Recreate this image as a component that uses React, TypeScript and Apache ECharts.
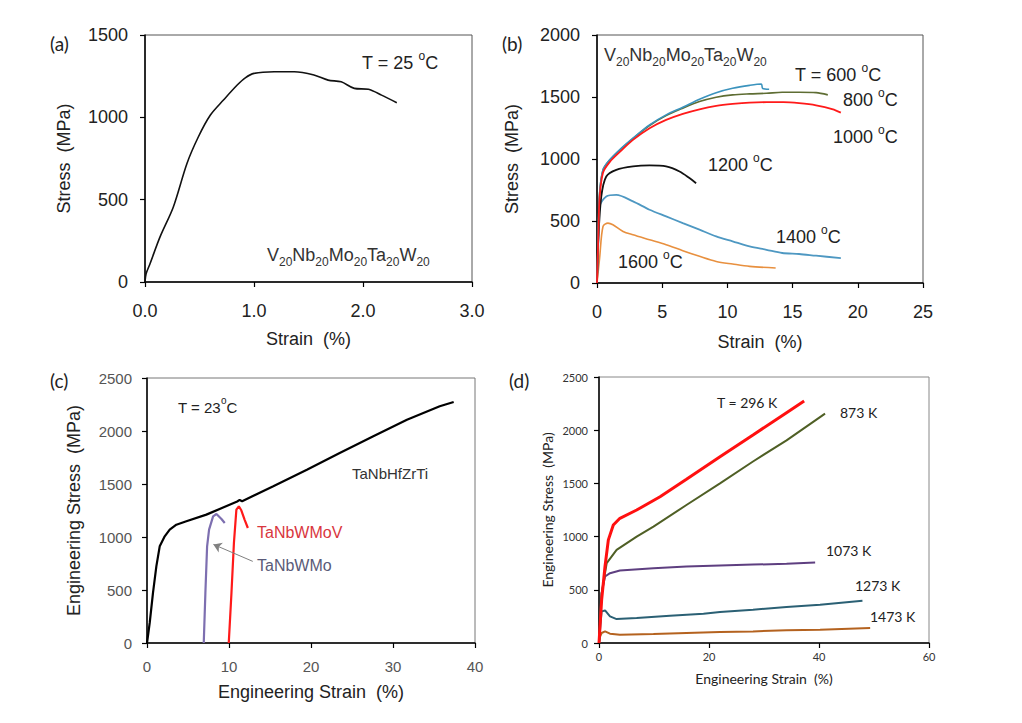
import React, { useEffect, useRef } from "react";
import * as echarts from "echarts";

// ---------- Panel (a) ----------
const A_STRAIN = [0, 0.01, 0.046, 0.138, 0.26, 0.385, 0.49, 0.6, 0.72, 0.846, 0.92, 1.0, 1.185, 1.37, 1.55, 1.68, 1.8, 1.92, 2.05, 2.17, 2.31];
const A_STRESS = [0, 50, 111, 274, 456, 720, 882, 1014, 1105, 1196, 1240, 1267, 1277, 1277, 1257, 1226, 1216, 1176, 1170, 1135, 1089];

// ---------- Panel (b) ----------
const B600_X = [0, 0.1, 0.2, 0.46, 0.97, 1.73, 2.76, 4.03, 5.3, 6.58, 7.86, 9.14, 10.4, 11.7, 12.6, 12.7, 13.2];
const B600_Y = [0, 400, 725, 913, 993, 1074, 1168, 1275, 1356, 1417, 1482, 1535, 1570, 1594, 1605, 1570, 1562];
const B800_X = [0, 0.1, 0.2, 0.46, 0.97, 1.73, 2.76, 4.03, 5.3, 6.58, 7.86, 9.14, 10.4, 11.7, 13, 14.2, 15.5, 16.8, 17.7];
const B800_Y = [0, 400, 720, 910, 990, 1070, 1165, 1270, 1350, 1410, 1463, 1498, 1517, 1525, 1530, 1538, 1538, 1535, 1517];
const B1000_X = [0, 0.1, 0.2, 0.46, 0.97, 1.73, 2.76, 4.03, 5.3, 6.58, 7.86, 9.14, 10.4, 11.7, 13, 14.3, 15.5, 16.8, 18.1, 18.7];
const B1000_Y = [0, 380, 690, 890, 975, 1055, 1154, 1248, 1315, 1364, 1401, 1428, 1444, 1455, 1458, 1458, 1450, 1433, 1401, 1374];
const B1200_X = [0, 0.1, 0.33, 0.71, 1.48, 2.76, 4.03, 5.3, 6.33, 7.09, 7.6];
const B1200_Y = [0, 350, 698, 859, 913, 940, 948, 940, 899, 846, 805];
const B1400_X = [0, 0.1, 0.2, 0.71, 1.48, 2.76, 4.03, 5.3, 6.58, 7.86, 9.14, 10.4, 11.7, 13, 14.2, 15.5, 16.8, 18.7];
const B1400_Y = [0, 330, 617, 698, 711, 658, 591, 537, 483, 430, 376, 336, 295, 268, 242, 234, 220, 201];
const B1600_X = [0, 0.2, 0.46, 0.84, 1.22, 2, 2.76, 4.03, 5.3, 6.58, 7.86, 9.14, 10.4, 11.7, 13.7];
const B1600_Y = [0, 200, 456, 483, 470, 416, 389, 349, 309, 260, 215, 174, 153, 134, 121];

// ---------- Panel (c) ----------
const C_HF_X = [0, 0.33, 0.73, 1.14, 1.55, 2.16, 2.77, 3.58, 4.8, 7.24, 11.0, 11.3, 11.6, 15.4, 19.5, 23.5, 27.6, 31.7, 35.7, 37.4];
const C_HF_Y = [0, 189, 472, 723, 912, 1006, 1069, 1116, 1148, 1211, 1335, 1350, 1338, 1478, 1635, 1792, 1950, 2107, 2233, 2274];
const C_MO_X = [6.92, 7.12, 7.33, 7.57, 8.06, 8.47, 9.08, 9.48];
const C_MO_Y = [0, 472, 912, 1069, 1195, 1217, 1170, 1132];
const C_MOV_X = [9.97, 10.3, 10.6, 10.9, 11.2, 11.5, 11.9, 12.3];
const C_MOV_Y = [0, 472, 943, 1258, 1289, 1252, 1164, 1085];

// ---------- Panel (d) ----------
const D296_X = [0, 0.48, 1.09, 1.7, 2.6, 3.8, 6.85, 11.1, 15.9, 22, 28, 34.1, 37.3];
const D296_Y = [0, 406, 719, 969, 1109, 1172, 1250, 1375, 1538, 1750, 1955, 2165, 2275];
const D873_X = [0, 0.48, 1.4, 3.2, 6.85, 9.9, 15.9, 22, 28, 34.1, 41.1];
const D873_Y = [0, 469, 750, 875, 1000, 1094, 1297, 1500, 1706, 1905, 2156];
const D1073_X = [0, 0.48, 1.1, 2, 3.8, 9.9, 15.9, 22, 28, 34.1, 39.3];
const D1073_Y = [0, 469, 625, 656, 681, 703, 719, 728, 737, 744, 756];
const D1273_X = [0, 0.3, 0.48, 1.1, 2, 3.2, 6.85, 12.9, 19, 22, 28, 34.1, 40.2, 47.9];
const D1273_Y = [0, 200, 297, 306, 250, 225, 234, 256, 275, 291, 313, 338, 359, 397];
const D1473_X = [0, 0.2, 0.48, 1.1, 2, 3.8, 9.9, 15.9, 22, 28, 34.1, 40.2, 49.3];
const D1473_Y = [0, 60, 94, 109, 88, 78, 84, 94, 103, 109, 119, 125, 141];

const mk = (xs: number[], ys: number[]) => xs.map((x, i) => [x, ys[i]]);

const ARIAL = "Liberation Sans, Arial, sans-serif";
const CAL = "Lato, Carlito, sans-serif";
const plain = (v: number) => String(v);

function xAx(g: number, min: number, max: number, interval: number, fs: number, color: string, name: string, gap: number, nfs: number, fam: string, margin: number, fmt: (v: number) => string = plain) {
  return {
    type: "value", gridIndex: g, min, max, interval,
    axisLine: { show: true, lineStyle: { color: "#000", width: 1.5 } },
    axisTick: { show: true, inside: false, length: 5, lineStyle: { color: "#000", width: 1.2 } },
    splitLine: { show: false },
    axisLabel: { fontSize: fs, color, fontFamily: fam, margin, formatter: fmt },
    name, nameLocation: "middle", nameGap: gap,
    nameTextStyle: { fontSize: nfs, color: "#222", fontFamily: fam },
  };
}
function yAx(g: number, min: number, max: number, interval: number, fs: number, color: string, name: string, gap: number, nfs: number, fam: string, margin: number) {
  return {
    type: "value", gridIndex: g, min, max, interval,
    axisLine: { show: true, lineStyle: { color: "#000", width: 1.5 } },
    axisTick: { show: true, inside: false, length: 5, lineStyle: { color: "#000", width: 1.2 } },
    splitLine: { show: false },
    axisLabel: { fontSize: fs, color, fontFamily: fam, margin, formatter: plain },
    name, nameLocation: "middle", nameGap: gap, nameRotate: 90,
    nameTextStyle: { fontSize: nfs, color: "#222", fontFamily: fam },
  };
}
function ln(name: string, g: number, data: number[][], color: string, width: number, smooth: number | boolean, extra: any = {}) {
  return {
    name, type: "line", xAxisIndex: g, yAxisIndex: g, data, showSymbol: false, symbol: "none",
    lineStyle: { color, width }, itemStyle: { color }, smooth, silent: true, ...extra,
  };
}

function txt(x: number, y: number, text: string, fs: number, fam: string, color = "#222", sub = 12) {
  return {
    type: "text", x, y,
    style: {
      text, fill: color, fontSize: fs, fontFamily: fam, lineHeight: fs + 8,
      align: "left", verticalAlign: "middle", textAlign: "left", textVerticalAlign: "middle",
      rich: {
        sub: { fontSize: sub, fontFamily: fam, fill: color, color, lineHeight: sub, verticalAlign: "bottom" },
        sup: { fontSize: sub, fontFamily: fam, fill: color, color, lineHeight: sub + 2, verticalAlign: "top" },
      },
    },
    z: 100,
  };
}

const ALLOY = "V{sub|20}Nb{sub|20}Mo{sub|20}Ta{sub|20}W{sub|20}";

export default function App() {
  const ref = useRef<HTMLDivElement>(null);
  useEffect(() => {
    const chart = echarts.init(ref.current!, null, { renderer: "svg" });
    const gridStyle = { show: true, borderColor: "#555", borderWidth: 1, backgroundColor: "transparent" };
    const S = 0.3;
    chart.setOption({
      animation: false,
      backgroundColor: "#fff",
      grid: [
        { left: 145, top: 35, width: 327, height: 247, ...gridStyle },
        { left: 597, top: 35, width: 326, height: 248, ...gridStyle },
        { left: 147, top: 378, width: 328, height: 265, ...gridStyle, borderColor: "#777" },
        { left: 599, top: 377, width: 330, height: 266, ...gridStyle, borderColor: "#888" },
      ],
      xAxis: [
        xAx(0, 0, 3, 1, 18, "#222", "Strain  (%)", 48, 18, ARIAL, 20, (v: number) => v.toFixed(1)),
        xAx(1, 0, 25, 5, 18, "#222", "Strain  (%)", 50, 18, ARIAL, 20),
        xAx(2, 0, 40, 10, 15, "#555", "Engineering Strain  (%)", 40, 18, ARIAL, 16),
        xAx(3, 0, 60, 20, 11, "#333", "Engineering Strain  (%)", 28, 14, CAL, 8),
      ],
      yAxis: [
        yAx(0, 0, 1500, 500, 18, "#222", "Stress  (MPa)", 72, 18, ARIAL, 17),
        yAx(1, 0, 2000, 500, 18, "#222", "Stress  (MPa)", 76, 18, ARIAL, 17),
        yAx(2, 0, 2500, 500, 15, "#555", "Engineering Stress  (MPa)", 64, 18, ARIAL, 15),
        yAx(3, 0, 2500, 500, 11, "#333", "Engineering Stress  (MPa)", 45, 14, CAL, 11),
      ],
      series: [
        ln("V20Nb20Mo20Ta20W20 25 °C", 0, mk(A_STRAIN, A_STRESS), "#111", 1.6, S),
        ln("1600 °C", 1, mk(B1600_X, B1600_Y), "#e8903f", 1.6, S),
        ln("1400 °C", 1, mk(B1400_X, B1400_Y), "#4e98c2", 1.8, S),
        ln("1200 °C", 1, mk(B1200_X, B1200_Y), "#111", 1.8, S),
        ln("800 °C", 1, mk(B800_X, B800_Y), "#5e6d33", 1.6, S),
        ln("600 °C", 1, mk(B600_X, B600_Y), "#3b93bd", 1.6, S),
        ln("1000 °C", 1, mk(B1000_X, B1000_Y), "#ff1a1a", 1.8, S),
        ln("TaNbHfZrTi", 2, mk(C_HF_X, C_HF_Y), "#000", 2.2, false),
        ln("TaNbWMo", 2, mk(C_MO_X, C_MO_Y), "#7d6fb0", 2.2, false, {
          markLine: {
            silent: true, symbol: ["none", "arrow"], symbolSize: 8,
            lineStyle: { color: "#808080", width: 1, type: "solid" }, label: { show: false },
            data: [[{ coord: [12.9, 770] }, { coord: [8.1, 930] }]],
          },
        }),
        ln("TaNbWMoV", 2, mk(C_MOV_X, C_MOV_Y), "#ff1a1a", 2.2, false),
        ln("1473 K", 3, mk(D1473_X, D1473_Y), "#b4621f", 2, false),
        ln("1273 K", 3, mk(D1273_X, D1273_Y), "#2b6074", 2, false),
        ln("1073 K", 3, mk(D1073_X, D1073_Y), "#5e3f80", 2, false),
        ln("873 K", 3, mk(D873_X, D873_Y), "#4f5f25", 2, false),
        ln("296 K", 3, mk(D296_X, D296_Y), "#ff1010", 3, false),
      ],
      graphic: [
        txt(50, 43, "(a)", 19, CAL, "#222"),
        txt(502, 43, "(b)", 19, CAL, "#222"),
        txt(50, 380, "(c)", 19, CAL, "#222"),
        txt(509, 380, "(d)", 19, CAL, "#222"),
        txt(362, 63, "T = 25 {sup|o}C", 18, ARIAL, "#222", 12),
        txt(267, 255, ALLOY, 18, ARIAL, "#333", 12),
        txt(604, 55, ALLOY, 18, ARIAL, "#333", 12),
        txt(795, 75, "T = 600 {sup|o}C", 18, ARIAL, "#222", 12),
        txt(843, 100, "800 {sup|o}C", 18, ARIAL, "#222", 12),
        txt(833, 137, "1000 {sup|o}C", 18, ARIAL, "#222", 12),
        txt(708, 165, "1200 {sup|o}C", 18, ARIAL, "#222", 12),
        txt(776, 237, "1400 {sup|o}C", 18, ARIAL, "#222", 12),
        txt(618, 262, "1600 {sup|o}C", 18, ARIAL, "#222", 12),
        txt(178, 407, "T = 23{sup|o}C", 15, ARIAL, "#222", 10),
        txt(352, 473, "TaNbHfZrTi", 15, ARIAL, "#333"),
        txt(257, 532, "TaNbWMoV", 16, ARIAL, "#d9363e"),
        txt(257, 565, "TaNbWMo", 16, ARIAL, "#5a5a78"),
        txt(717, 402, "T = 296 K", 14, CAL, "#222"),
        txt(840, 412, "873 K", 14, CAL, "#222"),
        txt(826, 550, "1073 K", 14, CAL, "#222"),
        txt(855, 585, "1273 K", 14, CAL, "#222"),
        txt(870, 616, "1473 K", 14, CAL, "#222"),
      ],
    });
    return () => chart.dispose();
  }, []);
  return <div ref={ref} style={{ position: "absolute", left: 0, top: 0, width: 1022, height: 723 }} />;
}
